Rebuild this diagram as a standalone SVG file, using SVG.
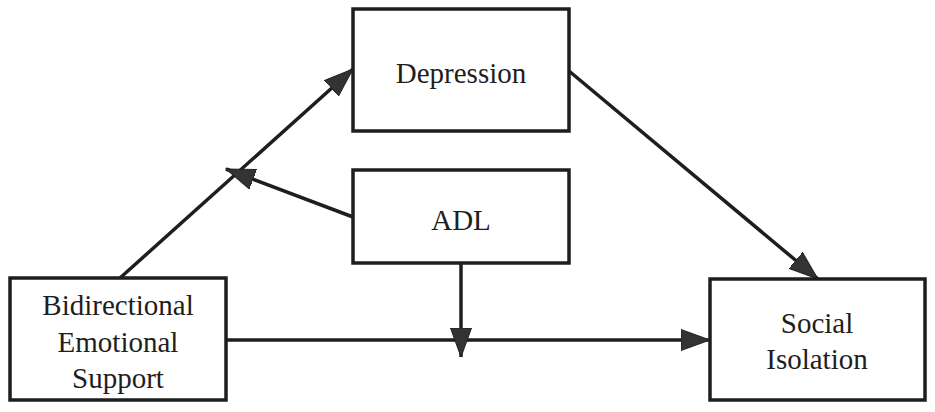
<svg xmlns="http://www.w3.org/2000/svg" width="935" height="412" viewBox="0 0 935 412">
  <style>
    .box { fill: #ffffff; stroke: #1e1e1e; stroke-width: 3.5; }
    .lbl { font-family: "Liberation Serif", "Times New Roman", serif; font-size: 29px; fill: #1e1e1e; text-anchor: middle; }
    .edge { stroke: #1e1e1e; stroke-width: 3.5; fill: none; marker-end: url(#arrow); }
  </style>
  <defs>
    <marker id="arrow" markerUnits="userSpaceOnUse" markerWidth="30" markerHeight="22" refX="29" refY="10.5" orient="auto" viewBox="0 0 30 21">
      <path d="M0,0 L29,10.5 L0,21 z" fill="#333333" stroke="#222222" stroke-width="1"/>
    </marker>
  </defs>
  <rect width="935" height="412" fill="#ffffff"/>
  <g id="connectors">
    <line class="edge" x1="120" y1="278" x2="353" y2="69"/>
    <line class="edge" x1="353" y1="217" x2="226" y2="169"/>
    <line class="edge" x1="569" y1="71" x2="818" y2="279"/>
    <line class="edge" x1="226" y1="340" x2="710" y2="340"/>
    <line class="edge" x1="461" y1="263" x2="461" y2="357"/>
  </g>
  <g id="node-depression">
    <rect class="box" x="353" y="9" width="216" height="122"/>
    <text class="lbl" x="461" y="83">Depression</text>
  </g>
  <g id="node-adl">
    <rect class="box" x="353" y="170" width="216" height="93"/>
    <text class="lbl" x="461" y="230">ADL</text>
  </g>
  <g id="node-bes">
    <rect class="box" x="10" y="278" width="216" height="122"/>
    <text class="lbl" x="118" y="315">Bidirectional</text>
    <text class="lbl" x="118" y="352">Emotional</text>
    <text class="lbl" x="118" y="388">Support</text>
  </g>
  <g id="node-social">
    <rect class="box" x="710" y="279" width="215" height="121"/>
    <text class="lbl" x="817" y="333">Social</text>
    <text class="lbl" x="817" y="369">Isolation</text>
  </g>
</svg>
